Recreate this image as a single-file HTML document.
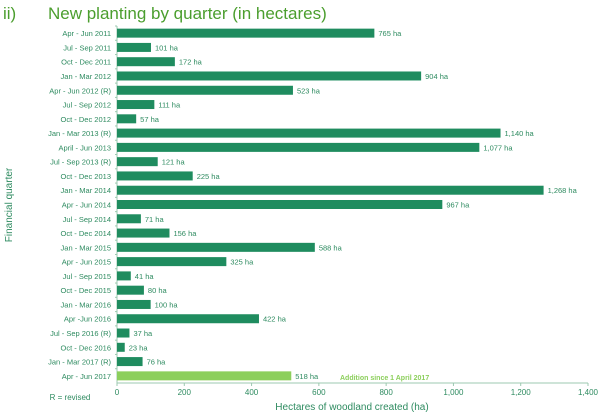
<!DOCTYPE html>
<html><head><meta charset="utf-8"><style>
body{margin:0;background:#fff;font-family:"Liberation Sans","DejaVu Sans",sans-serif}
svg text{font-family:"Liberation Sans","DejaVu Sans",sans-serif}
</style></head><body>
<svg width="600" height="414" xmlns="http://www.w3.org/2000/svg">
<text x="3" y="19" font-size="17" fill="#4b9e2e">ii)</text>
<text x="48" y="19" font-size="17" fill="#4b9e2e">New planting by quarter (in hectares)</text>
<g id="plot"></g>
<text x="12" y="205" font-size="10" fill="#2e8b60" text-anchor="middle" transform="rotate(-90 12 205)">Financial quarter</text>
<text x="352" y="410" font-size="10" fill="#2e8b60" text-anchor="middle">Hectares of woodland created (ha)</text>
<text x="70" y="400" font-size="8" fill="#2e8b60" text-anchor="middle">R = revised</text>
<text x="340" y="380" font-size="7" font-weight="bold" fill="#8ccf5c">Addition  since 1 April 2017</text>
</svg>
<script>
const categories=["Apr - Jun 2011","Jul - Sep  2011","Oct - Dec 2011","Jan - Mar 2012","Apr - Jun 2012 (R)","Jul - Sep 2012","Oct - Dec 2012","Jan - Mar 2013 (R)","April - Jun 2013","Jul - Sep 2013 (R)","Oct - Dec 2013","Jan - Mar 2014","Apr - Jun 2014","Jul - Sep 2014","Oct - Dec 2014","Jan - Mar 2015","Apr - Jun 2015","Jul - Sep 2015","Oct - Dec 2015","Jan - Mar 2016","Apr -Jun 2016","Jul - Sep 2016 (R)","Oct - Dec 2016","Jan - Mar 2017 (R)","Apr - Jun 2017"];
const values=[765,101,172,904,523,111,57,1140,1077,121,225,1268,967,71,156,588,325,41,80,100,422,37,23,76,518];
const valueLabels=["765 ha","101 ha","172 ha","904 ha","523 ha","111 ha","57 ha","1,140 ha","1,077 ha","121 ha","225 ha","1,268 ha","967 ha","71 ha","156 ha","588 ha","325 ha","41 ha","80 ha","100 ha","422 ha","37 ha","23 ha","76 ha","518 ha"];
const xTicks=[0,200,400,600,800,1000,1200,1400];
const xTickLabels=["0","200","400","600","800","1,000","1,200","1,400"];
const NS="http://www.w3.org/2000/svg";
const g=document.getElementById('plot');
const x0=117,x1=588,yTop=26,yBot=383;
const xScale=v=>x0+(v-0)/(1400)*(x1-x0);
const n=categories.length,step=(yBot-yTop)/n;
const yScale=i=>yTop+step*(i+0.5);
function mk(t,a){const e=document.createElementNS(NS,t);for(const k in a)e.setAttribute(k,a[k]);g.appendChild(e);return e;}
const axY=mk('line',{x1:x0,x2:x0,y1:yTop,y2:yBot,stroke:'#9cc9b0','stroke-width':1});


const axX=mk('line',{x1:x0,x2:x1,y1:yBot,y2:yBot,stroke:'#9cc9b0','stroke-width':1});


xTicks.forEach((t,i)=>{
 const tk=mk('line',{x1:xScale(t),x2:xScale(t),y1:yBot,y2:yBot+3,stroke:'#9cc9b0'});
 
 
 const tl=mk('text',{x:xScale(t),y:yBot+12,'font-size':8,fill:'#2e8b60','text-anchor':'middle'});
 tl.textContent=xTickLabels[i];
 
 
});
categories.forEach((c,i)=>{
 const y=yScale(i),last=i===n-1;
 const r=mk('rect',{x:x0,y:y-4.5,width:xScale(values[i])-x0,height:9,fill:last?'#8ccf5c':'#1f8c5f'});
 
 
 const cl=mk('text',{x:x0-6,y:y+3,'font-size':7.5,fill:'#2e8b60','text-anchor':'end'});
 cl.textContent=c;
 
 
 const vl=mk('text',{x:xScale(values[i])+4,y:y+3,'font-size':7.5,fill:'#2e8b60'});
 vl.textContent=valueLabels[i];
 
 
 const tk=mk('line',{x1:x0-2,x2:x0,y1:y-step/2,y2:y-step/2,stroke:'#9cc9b0'});
 
 
});
</script>
</body></html>
